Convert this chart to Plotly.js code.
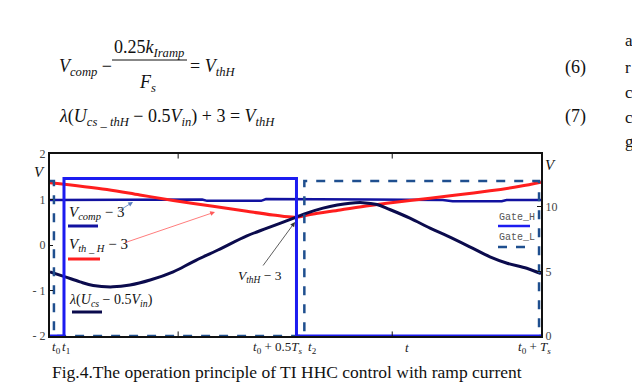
<!DOCTYPE html>
<html><head><meta charset="utf-8">
<script src="https://cdn.plot.ly/plotly-3.0.1.min.js"></script>
<style>html,body{margin:0;padding:0;background:#fff}#c{width:632px;height:384px}</style>
</head><body><div id="c"></div>
<script>
// ---- data (time in units of Ts, t0 = 0) ----
const tLambda = [0,0.031,0.061,0.088,0.128,0.163,0.204,0.251,0.291,0.342,0.401,0.442,0.499,0.523,0.556,0.585,0.611,0.637,0.666,0.692,0.733,0.774,0.809,0.855,0.896,0.931,0.971,1.0];
const lambdaCurve = [-0.59,-0.70,-0.81,-0.89,-0.92,-0.88,-0.77,-0.59,-0.37,-0.11,0.20,0.37,0.60,0.70,0.81,0.88,0.92,0.93,0.89,0.78,0.59,0.37,0.20,-0.04,-0.26,-0.40,-0.51,-0.63];
const tVth = [0,0.116,0.183,0.251,0.332,0.401,0.454,0.501,0.530,0.591,0.652,0.733,0.815,0.896,0.957,1.0];
const vthH = [1.37,1.22,1.10,0.98,0.85,0.74,0.66,0.61,0.67,0.77,0.87,0.98,1.08,1.19,1.29,1.38];
const tComp = [0,0.25,0.27,0.31,0.32,0.43,0.44,0.60,0.65,0.80,0.82,0.92,0.93,1.0];
const vComp = [0.99,0.99,1.0,1.0,0.97,0.97,1.01,1.01,1.0,0.99,0.96,0.96,0.99,0.99];
const tGateH = [0,0.0285,0.0285,0.502,0.502,1.0];
const gateH = [0,0,12.2,12.2,0,0];
const tGateL = [0,0.008,0.008,0.518,0.518,0.996,0.996,1.0];
const gateL = [12,12,0,0,12,12,0,0];
const leftTickVals = [-2,-1,0,1,2];
const leftTickText = ['- 2','- 1','0','1','2'];
const rightTickVals = [0,5,10];
const xLabelPos = [0.0132,0.0326,0.464,0.534,0.727,0.986];
const xLabelText = ['<i>t</i><sub>0</sub>','<i>t</i><sub>1</sub>','<i>t</i><sub>0</sub> + 0.5<i>T</i><sub><i>s</i></sub>','<i>t</i><sub>2</sub>','<i>t</i>','<i>t</i><sub>0</sub> + <i>T</i><sub><i>s</i></sub>'];
const minorTicks = [0.261,0.697];

// ---- layout helpers (pixel -> paper) ----
const L=50,R=541,T=154,B=336;
const P = px => (px-L)/(R-L);
const Q = py => (B-py)/(B-T);
const serif = 'Liberation Serif, Times New Roman, serif';

const traces = [
  {x:tComp,y:vComp,mode:'lines',line:{color:'#1212a0',width:2.5},hoverinfo:'skip'},
  {x:tVth,y:vthH,mode:'lines',line:{color:'#ff1e1e',width:3,shape:'spline'},hoverinfo:'skip'},
  {x:tLambda,y:lambdaCurve,mode:'lines',line:{color:'#0b0b4d',width:3,shape:'spline'},hoverinfo:'skip'},
  {x:tGateL,y:gateL,yaxis:'y2',mode:'lines',line:{color:'#1f4f8f',width:2.5,dash:'dash'},hoverinfo:'skip'},
  {x:tGateH,y:gateH,yaxis:'y2',mode:'lines',line:{color:'#1c1cf0',width:3},hoverinfo:'skip'}
];

function txt(x,y,text,size,opts){
  return Object.assign({xref:'paper',yref:'paper',x:P(x),y:Q(y),text:text,showarrow:false,
    xanchor:'left',yanchor:'middle',font:{family:serif,size:size,color:'#111'}},opts||{});
}
function arrow(x0,y0,x1,y1,color){
  return {xref:'paper',yref:'paper',x:P(x1),y:Q(y1),ax:x0-x1,ay:y0-y1,axref:'pixel',ayref:'pixel',
    text:'',showarrow:true,arrowhead:2,arrowsize:1.2,arrowwidth:0.8,arrowcolor:color};
}
function seg(x0,x1,y,color,w,dash){
  return {type:'line',xref:'paper',yref:'paper',x0:P(x0),x1:P(x1),y0:Q(y),y1:Q(y),line:{color:color,width:w,dash:dash||'solid'}};
}

const annotations = [
  // equations
  txt(57,68,'<i>V</i><sub><i>comp</i></sub> −',18),
  txt(149,48,'0.25<i>k</i><sub><i>Iramp</i></sub>',18,{xanchor:'center'}),
  txt(147,83,'<i>F</i><sub><i>s</i></sub>',18,{xanchor:'center'}),
  txt(188,68,'= <i>V</i><sub><i>thH</i></sub>',18),
  txt(575,68,'(6)',18,{xanchor:'center'}),
  txt(57,117,'<i>λ</i>(<i>U</i><sub><i>cs _ thH</i></sub> − 0.5<i>V</i><sub><i>in</i></sub>) + 3 = <i>V</i><sub><i>thH</i></sub>',18),
  txt(575,116,'(7)',18,{xanchor:'center'}),
  txt(623,40,'a',17), txt(623,68,'r',17), txt(623,92,'c',17), txt(623,117,'c',17), txt(623,141,'g',17),
  // axis unit labels
  txt(39,172,'<i>V</i>',15,{xanchor:'center'}),
  txt(550,165,'<i>V</i>',15,{xanchor:'center'}),
  // legend labels
  txt(67,213,'<i>V</i><sub><i>comp</i></sub> − 3',15),
  txt(67,245,'<i>V</i><sub><i>th _ H</i></sub> − 3',15),
  txt(67,300,'<i>λ</i>(<i>U</i><sub><i>cs</i></sub> − 0.5<i>V</i><sub><i>in</i></sub>)',14),
  txt(236,276,'<i>V</i><sub><i>thH</i></sub> − 3',13.5),
  txt(497,217,'Gate_H',10,{font:{family:'Liberation Mono, monospace',size:10,color:'#555'}}),
  txt(497,237,'Gate_L',10,{font:{family:'Liberation Mono, monospace',size:10,color:'#555'}}),
  // arrows
  arrow(117,212,133,202,'#5b7fc0'),
  arrow(124,243,215,212,'#ff5a5a'),
  arrow(262,267,295,222,'#333333'),
  // caption
  txt(50,372,'Fig.4.The operation principle of TI HHC control with ramp current',17.5)
];
xLabelPos.forEach((v,i)=>{
  annotations.push({xref:'x',yref:'paper',x:v,y:Q(347),text:xLabelText[i],showarrow:false,
    xanchor:'center',yanchor:'middle',font:{family:serif,size:13,color:'#222'}});
});

const shapes = [
  {type:'line',xref:'paper',yref:'paper',x0:P(112),x1:P(187),y0:Q(60),y1:Q(60),line:{color:'#111',width:1}},
  seg(68,98,226,'#1212a0',3),
  seg(68,100,259,'#ff1e1e',3),
  seg(72,102,312,'#0b0b4d',3),
  seg(498,530,226,'#1c1cf0',2.5),
  seg(498,527,247,'#1f4f8f',2.5,'dash')
];
minorTicks.forEach(v=>{
  shapes.push({type:'line',xref:'x',yref:'paper',x0:v,x1:v,y0:0,y1:0.025,line:{color:'#111',width:1}});
  shapes.push({type:'line',xref:'x',yref:'paper',x0:v,x1:v,y0:1,y1:0.975,line:{color:'#111',width:1}});
});

const layout = {
  width:632,height:384,
  margin:{l:L,r:632-R,t:T,b:384-B,pad:0},
  paper_bgcolor:'#fff',plot_bgcolor:'#fff',showlegend:false,
  xaxis:{range:[0,1],showgrid:false,zeroline:false,showline:true,mirror:true,linecolor:'#111',linewidth:2,
    showticklabels:false,ticks:'',fixedrange:true},
  yaxis:{range:[-2,2],showgrid:false,zeroline:false,showline:true,linecolor:'#111',linewidth:2,
    tickvals:leftTickVals,ticktext:leftTickText,ticks:'inside',ticklen:3,tickcolor:'#111',
    tickfont:{family:serif,size:12,color:'#444'},fixedrange:true},
  yaxis2:{range:[0,14.1],overlaying:'y',side:'right',showgrid:false,zeroline:false,showline:true,linecolor:'#111',linewidth:2,
    tickvals:rightTickVals,ticks:'inside',ticklen:4,tickcolor:'#111',tickfont:{family:serif,size:12,color:'#444'},fixedrange:true},
  annotations:annotations,shapes:shapes
};
Plotly.newPlot('c',traces,layout,{staticPlot:true,displayModeBar:false});
</script></body></html>
